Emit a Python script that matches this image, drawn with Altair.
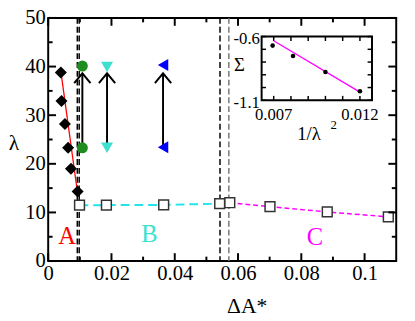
import altair as alt
import pandas as pd

# ---------------- data ----------------
diam_x = [0.0040, 0.0042, 0.0053, 0.0063, 0.0072, 0.0093]
diam_y = [38.8, 32.9, 28.2, 23.3, 19.0, 14.3]
fitA_x = [0.0040, 0.0093]
fitA_y = [39.0, 13.9]
sqB_x = [0.0099, 0.0184, 0.0365, 0.0542]
sqB_y = [11.5, 11.5, 11.55, 11.8]
sqC_x = [0.0574, 0.0701, 0.0882, 0.1075]
sqC_y = [12.0, 11.2, 10.1, 9.1]
green_x = [0.0108, 0.0108]
green_y = [40.1, 23.3]
cyan_x = [0.0186, 0.0186]
cyan_y = [39.9, 23.3]
blue_x = [0.0363, 0.0363]
blue_y = [40.3, 23.4]
arrow_x = [0.0108, 0.0186, 0.0363]
arrow_lo = [23.3, 23.3, 23.4]
arrow_hi = [38.6, 38.6, 38.6]
vline_x = [0.0092, 0.0098, 0.0543, 0.0571]
vline_c = ["black", "black", "black", "#777777"]
region_lbl = ["A", "B", "C"]
region_x = [0.0060, 0.0320, 0.0843]
region_y = [5.2, 5.6, 5.0]
region_c = ["#ff0000", "#40E0D0", "#ff00ff"]
x_major = [0, 0.02, 0.04, 0.06, 0.08, 0.1]
x_minor = [0.01, 0.03, 0.05, 0.07, 0.09]
y_major = [0, 10, 20, 30, 40, 50]
y_minor = [5, 15, 25, 35, 45]
inset_x = [0.00694, 0.00812, 0.0100, 0.0120]
inset_y = [-0.671, -0.752, -0.878, -1.029]
inset_fit_x = [0.0070, 0.0120]
inset_fit_y = [-0.633, -1.036]
inset_xt = [0.007, 0.008, 0.009, 0.010, 0.011, 0.012]
inset_yt = [-0.6, -0.7, -0.8, -0.9, -1.0, -1.1]
inset_xlab = ["0.007", "0.012"]
inset_xlab_v = [0.007, 0.012]
inset_ylab = ["-0.6", "-1.1"]
inset_ylab_v = [-0.6, -1.1]

W, H = 355, 248
FONT = "Liberation Serif"

XS = alt.Scale(domain=[0, 0.11], nice=False, zero=False)
YS = alt.Scale(domain=[0, 50], nice=False, zero=False)
IXS = alt.Scale(domain=[0.0063, 0.0127], range=[217.7, 330.3], nice=False, zero=False)
IYS = alt.Scale(domain=[-1.1, -0.6], range=[84, 19], nice=False, zero=False)


def X(f, s=XS):
    return alt.X(f, type="quantitative", scale=s, axis=None)


def Y(f, s=YS):
    return alt.Y(f, type="quantitative", scale=s, axis=None)


layers = []

# axes layer (invisible points)
ax_df = pd.DataFrame({"x": [0.0], "y": [0.0]})
layers.append(
    alt.Chart(ax_df).mark_point(opacity=0).encode(
        x=alt.X("x:Q", scale=XS, axis=alt.Axis(
            values=x_major, format="~g", labelPadding=2, labelFlush=False)),
        y=alt.Y("y:Q", scale=YS, axis=alt.Axis(
            values=y_major, labelPadding=3, labelFlush=False)),
    )
)

# axis titles as text marks
layers.append(
    alt.Chart(ax_df).mark_text(text="ΔA*", font=FONT, fontSize=22, baseline="alphabetic",
                               align="center").encode(x=alt.value(203), y=alt.value(H + 53))
)
layers.append(
    alt.Chart(ax_df).mark_text(text="λ", font=FONT, fontSize=22, baseline="middle",
                               align="center").encode(x=alt.value(-35), y=alt.value(128))
)

# vertical dashed lines
layers.append(
    alt.Chart(pd.DataFrame({"x": vline_x, "c": vline_c})).mark_rule(
        strokeDash=[6, 3], strokeWidth=1.5).encode(
        x=X("x"), color=alt.Color("c:N", scale=None))
)

# red fit line region A
layers.append(
    alt.Chart(pd.DataFrame({"x": fitA_x, "y": fitA_y})).mark_line(
        color="#ff0000", strokeWidth=1.3).encode(x=X("x"), y=Y("y"))
)
# diamonds
layers.append(
    alt.Chart(pd.DataFrame({"x": diam_x, "y": diam_y})).mark_point(
        shape="diamond", filled=True, color="black", size=150, opacity=1).encode(x=X("x"), y=Y("y"))
)
# cyan dashed line
layers.append(
    alt.Chart(pd.DataFrame({"x": sqB_x, "y": sqB_y})).mark_line(
        color="#22e4ec", strokeWidth=2, strokeDash=[9, 5]).encode(x=X("x"), y=Y("y"))
)
# magenta dashed line
layers.append(
    alt.Chart(pd.DataFrame({"x": sqC_x, "y": sqC_y})).mark_line(
        color="#ff00ff", strokeWidth=1.5, strokeDash=[5, 3]).encode(x=X("x"), y=Y("y"))
)
# squares
layers.append(
    alt.Chart(pd.DataFrame({"x": sqB_x + sqC_x, "y": sqB_y + sqC_y})).mark_point(
        shape="square", filled=True, fill="white", stroke="#333333", strokeWidth=1.5,
        size=100, opacity=1).encode(x=X("x"), y=Y("y"))
)
# arrow shafts
layers.append(
    alt.Chart(pd.DataFrame({"x": arrow_x, "lo": arrow_lo, "hi": arrow_hi})).mark_rule(
        color="black", strokeWidth=2).encode(x=X("x"), y=Y("lo"), y2="hi")
)
# markers
layers.append(
    alt.Chart(pd.DataFrame({"x": green_x, "y": green_y})).mark_point(
        shape="circle", filled=True, color="#1e8c1e", size=125, opacity=1).encode(x=X("x"), y=Y("y"))
)
layers.append(
    alt.Chart(pd.DataFrame({"x": cyan_x, "y": cyan_y})).mark_point(
        shape="triangle-down", filled=True, color="#40E0D0", size=150, opacity=1).encode(x=X("x"), y=Y("y"))
)
layers.append(
    alt.Chart(pd.DataFrame({"x": blue_x, "y": blue_y})).mark_point(
        shape="triangle-left", filled=True, color="#0000ff", size=150, opacity=1).encode(x=X("x"), y=Y("y"))
)
# arrow heads (open chevrons)
layers.append(
    alt.Chart(pd.DataFrame({"x": arrow_x, "y": arrow_hi})).mark_point(
        shape="M -1 1.2 L 0 0 L 1 1.2", filled=False, stroke="black", strokeWidth=2,
        size=276, opacity=1).encode(x=X("x"), y=Y("y"))
)
# region labels
layers.append(
    alt.Chart(pd.DataFrame({"t": region_lbl, "x": region_x, "y": region_y, "c": region_c})).mark_text(
        font=FONT, fontSize=25, baseline="middle", align="center").encode(
        x=X("x"), y=Y("y"), text="t:N", color=alt.Color("c:N", scale=None))
)

# tick marks (inward, on all four sides)
for vals, ln in [(x_major, 8), (x_minor, 4.5)]:
    d = pd.DataFrame({"v": vals})
    layers.append(alt.Chart(d).mark_rule(color="black", strokeWidth=2).encode(
        x=X("v"), y=alt.value(H), y2=alt.value(H - ln)))
    layers.append(alt.Chart(d).mark_rule(color="black", strokeWidth=2).encode(
        x=X("v"), y=alt.value(0), y2=alt.value(ln)))
for vals, ln in [(y_major, 8), (y_minor, 4.5)]:
    d = pd.DataFrame({"v": vals})
    layers.append(alt.Chart(d).mark_rule(color="black", strokeWidth=2).encode(
        y=Y("v"), x=alt.value(0), x2=alt.value(ln)))
    layers.append(alt.Chart(d).mark_rule(color="black", strokeWidth=2).encode(
        y=Y("v"), x=alt.value(W), x2=alt.value(W - ln)))

# ---------------- inset ----------------
layers.append(
    alt.Chart(ax_df).mark_rect(fill="white", stroke="black", strokeWidth=2).encode(
        x=alt.value(217.7), x2=alt.value(330.3), y=alt.value(19), y2=alt.value(84))
)
dxt = pd.DataFrame({"v": inset_xt})
dyt = pd.DataFrame({"v": inset_yt})
layers.append(alt.Chart(dxt).mark_rule(color="black", strokeWidth=1.5).encode(
    x=X("v", IXS), y=alt.value(84), y2=alt.value(79.5)))
layers.append(alt.Chart(dxt).mark_rule(color="black", strokeWidth=1.5).encode(
    x=X("v", IXS), y=alt.value(19), y2=alt.value(23.5)))
layers.append(alt.Chart(dyt).mark_rule(color="black", strokeWidth=1.5).encode(
    y=Y("v", IYS), x=alt.value(217.7), x2=alt.value(222.2)))
layers.append(alt.Chart(dyt).mark_rule(color="black", strokeWidth=1.5).encode(
    y=Y("v", IYS), x=alt.value(330.3), x2=alt.value(325.8)))
layers.append(
    alt.Chart(pd.DataFrame({"x": inset_fit_x, "y": inset_fit_y})).mark_line(
        color="#ff00ff", strokeWidth=1.3).encode(x=X("x", IXS), y=Y("y", IYS))
)
layers.append(
    alt.Chart(pd.DataFrame({"x": inset_x, "y": inset_y})).mark_point(
        shape="circle", filled=True, color="black", size=22, opacity=1).encode(x=X("x", IXS), y=Y("y", IYS))
)
layers.append(
    alt.Chart(pd.DataFrame({"t": inset_xlab, "v": inset_xlab_v})).mark_text(
        font=FONT, fontSize=17, baseline="middle", align="center").encode(
        x=X("v", IXS), y=alt.value(99), text="t:N")
)
layers.append(
    alt.Chart(pd.DataFrame({"t": inset_ylab, "v": inset_ylab_v})).mark_text(
        font=FONT, fontSize=17, baseline="middle", align="right", dy=3).encode(
        x=alt.value(216), y=Y("v", IYS), text="t:N")
)
layers.append(
    alt.Chart(ax_df).mark_text(text="Σ", font=FONT, fontSize=19, baseline="middle", align="center").encode(
        x=alt.value(195), y=alt.value(48))
)
layers.append(
    alt.Chart(ax_df).mark_text(text="1/λ", font=FONT, fontSize=19, baseline="alphabetic", align="left").encode(
        x=alt.value(254), y=alt.value(125))
)
layers.append(
    alt.Chart(ax_df).mark_text(text="2", font=FONT, fontSize=13, baseline="alphabetic", align="left").encode(
        x=alt.value(288), y=alt.value(113))
)

chart = alt.layer(*layers).resolve_scale(x="independent", y="independent").properties(
    width=W, height=H,
    autosize=alt.AutoSizeParams(type="none"),
    padding={"left": 41, "top": 7, "right": 11, "bottom": 58},
    background="white",
).configure(font=FONT).configure_axis(
    labelFont=FONT, labelFontSize=21, labelColor="black", labelFontWeight="normal",
    ticks=False, domain=False, grid=False, title=None,
).configure_text(font=FONT).configure_view(stroke="black", strokeWidth=2)

chart.save("out.html", embed_options={"renderer": "svg", "actions": False})
